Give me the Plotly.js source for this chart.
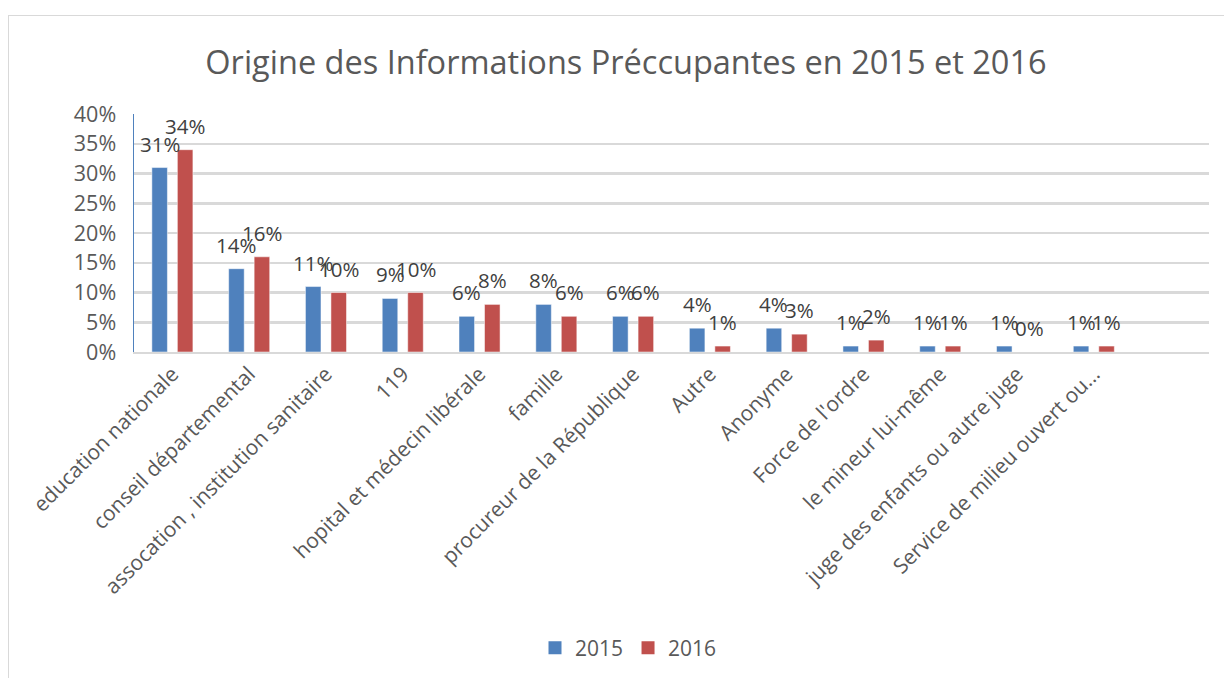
<!DOCTYPE html>
<html>
<head>
<meta charset="utf-8">
<script src="https://cdn.plot.ly/plotly-3.0.1.min.js"></script>
<style>
html,body{margin:0;padding:0;overflow:hidden;background:#fff;}
#frame{position:absolute;left:8px;top:15px;width:1240px;height:700px;border:1px solid #D9D9D9;box-sizing:border-box;}
#chart{position:absolute;left:0;top:0;width:1224px;height:678px;}
</style>
</head>
<body>
<div id="frame"></div>
<div id="chart"></div>
<script>
const categories = [
  "education nationale",
  "conseil départemental",
  "assocation , institution sanitaire",
  "119",
  "hopital et médecin libérale",
  "famille",
  "procureur de la République",
  "Autre",
  "Anonyme",
  "Force de l'ordre",
  "le mineur lui-même",
  "juge des enfants ou autre juge",
  "Service de milieu ouvert ou..."
];
const values2015 = [31, 14, 11, 9, 6, 8, 6, 4, 4, 1, 1, 1, 1];
const values2016 = [34, 16, 10, 10, 8, 6, 6, 1, 3, 2, 1, 0, 1];
const seriesNames = ["2015", "2016"];
const yTickVals = [0, 5, 10, 15, 20, 25, 30, 35, 40];
const yTickLabels = ["0%", "5%", "10%", "15%", "20%", "25%", "30%", "35%", "40%"];

const FONT = "Open Sans, sans-serif";
const BLUE = "#4F81BD", RED = "#C0504D";
const idx = categories.map((c, i) => i);
// the source sheet had one trailing empty row, which leaves an empty slot at the right
const emptySlots = 1;

const traces = [
  {type:"bar", name:seriesNames[0], x:idx, y:values2015, showlegend:false,
   marker:{color:BLUE, line:{color:"#ffffff", width:0.5}}, hoverinfo:"none"},
  {type:"bar", name:seriesNames[1], x:idx, y:values2016, showlegend:false,
   marker:{color:RED, line:{color:"#ffffff", width:0.5}}, hoverinfo:"none"},
  {type:"scatter", mode:"markers", name:seriesNames[0], x:[null], y:[null],
   marker:{color:BLUE, symbol:"square", size:13}},
  {type:"scatter", mode:"markers", name:seriesNames[1], x:[null], y:[null],
   marker:{color:RED, symbol:"square", size:13}}
];

const annotations = [];
[values2015, values2016].forEach((vals, s) => {
  vals.forEach((v, i) => {
    annotations.push({
      x: i, y: v, xref:"x", yref:"y",
      text: v + "%", showarrow:false, yanchor:"bottom",
      xshift: s === 0 ? -12.75 : 12.75, yshift: 8,
      font:{family:FONT, size:20.5, color:"#404040"}
    });
  });
});

const layout = {
  width:1224, height:678,
  margin:{l:134, r:15, t:114, b:325},
  paper_bgcolor:"rgba(0,0,0,0)", plot_bgcolor:"rgba(0,0,0,0)",
  title:{text:"Origine des Informations Préccupantes en 2015 et 2016",
         font:{family:FONT, size:32.5, color:"#595959"}, x:0.5114, xanchor:"center", y:0.908, yanchor:"middle", yref:"container"},
  barmode:"group", bargap:0.336, bargroupgap:0.39,
  showlegend:true,
  legend:{orientation:"h", x:0.46, xanchor:"center", y:-1.235, yanchor:"middle",
          font:{family:FONT, size:21, color:"#595959"}, itemwidth:30, traceorder:"normal"},
  xaxis:{range:[-0.5, categories.length - 0.5 + emptySlots], tickmode:"array", tickvals:idx, ticktext:categories,
         tickangle:-45, tickfont:{family:FONT, size:21, color:"#595959"},
         showgrid:false, showline:true, linecolor:"#D9D9D9", linewidth:1.5, ticks:"", fixedrange:true, zeroline:false},
  yaxis:{range:[0,40], tickmode:"array", tickvals:yTickVals, ticktext:yTickLabels,
         tickfont:{family:FONT, size:21.5, color:"#595959"},
         showgrid:true, gridcolor:"#D9D9D9", gridwidth:2.5, zeroline:false,
         showline:true, linecolor:"#4F81BD", linewidth:1.5, ticks:"", ticklabelstandoff:12, fixedrange:true},
  annotations:annotations
};

Plotly.newPlot("chart", traces, layout, {displayModeBar:false, staticPlot:true});
</script>
</body>
</html>
